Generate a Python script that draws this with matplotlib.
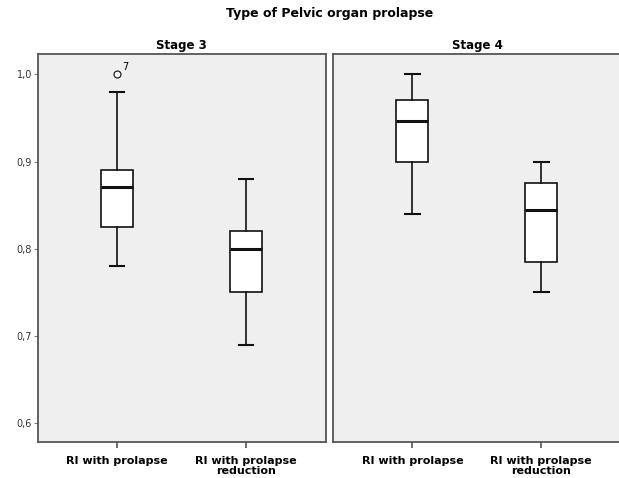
import matplotlib
matplotlib.use("Agg")
import matplotlib.pyplot as plt
from matplotlib.ticker import FuncFormatter

panels = ["Stage 3", "Stage 4"]
categories = ["RI with prolapse", "RI with prolapse\nreduction"]
# per panel, per category: [whislo, q1, median, q3, whishi]
stage3_stats = [[0.78, 0.825, 0.871, 0.89, 0.98], [0.69, 0.75, 0.80, 0.82, 0.88]]
stage4_stats = [[0.84, 0.90, 0.946, 0.97, 1.00], [0.75, 0.785, 0.845, 0.875, 0.90]]
stage3_outliers = [[1.0], []]
stage4_outliers = [[], []]
outlier_labels = {("Stage 3", 0): ["7"]}
yticks = [0.6, 0.7, 0.8, 0.9, 1.0]

W, H = 619, 478
fig = plt.figure(figsize=(W / 100, H / 100), dpi=100)
fig.patch.set_facecolor("white")

fig.text(330 / W, 1 - 13 / H, "Type of Pelvic organ prolapse", ha="center", va="center",
         fontsize=9, fontweight="bold")

lefts = [37.7, 333.0]
top, bottom = 54.3, 442.0
width = 288.0
all_stats = [stage3_stats, stage4_stats]
all_out = [stage3_outliers, stage4_outliers]

for pi, (name, st, outs) in enumerate(zip(panels, all_stats, all_out)):
    ax = fig.add_axes([lefts[pi] / W, 1 - bottom / H, width / W, (bottom - top) / H])
    ax.set_facecolor("#efefef")
    bxp = []
    for ci, s in enumerate(st):
        bxp.append(dict(whislo=s[0], q1=s[1], med=s[2], q3=s[3], whishi=s[4],
                        fliers=outs[ci], label=categories[ci]))
    ax.bxp(bxp, positions=[1, 2], widths=0.25, patch_artist=True,
           boxprops=dict(facecolor="white", edgecolor="#111111", linewidth=1.2),
           medianprops=dict(color="#111111", linewidth=2.2),
           whiskerprops=dict(color="#111111", linewidth=1.2),
           capprops=dict(color="#111111", linewidth=1.5),
           flierprops=dict(marker="o", markerfacecolor="white", markeredgecolor="#222222",
                           markersize=5, markeredgewidth=0.9),
           capwidths=0.115)
    for ci in range(2):
        labs = outlier_labels.get((name, ci), [])
        for v, lab in zip(outs[ci], labs):
            ax.annotate(lab, (ci + 1, v), xytext=(3.5, 1.5), textcoords="offset points",
                        fontsize=7, ha="left", va="bottom")
    ax.set_xlim(0.385, 2.618)
    ax.set_ylim(0.5786, 1.0229)
    ax.set_xticks([1, 2])
    ax.set_xticklabels(categories, fontsize=8, fontweight="bold", linespacing=1.05)
    ax.tick_params(axis="x", length=4, color="#555555", width=1.2, pad=6)
    if pi == 0:
        ax.set_yticks(yticks)
        ax.yaxis.set_major_formatter(FuncFormatter(lambda v, p: f"{v:.1f}".replace(".", ",")))
        ax.tick_params(axis="y", length=3, color="#777777", labelsize=7, pad=1,
                       labelcolor="#333333")
    else:
        ax.set_yticks([])
    for sp in ax.spines.values():
        sp.set_color("#555555")
        sp.set_linewidth(1.3)
    ax.set_title(name, fontsize=8.5, fontweight="bold", pad=4)

fig.savefig("out.png", dpi=100)
